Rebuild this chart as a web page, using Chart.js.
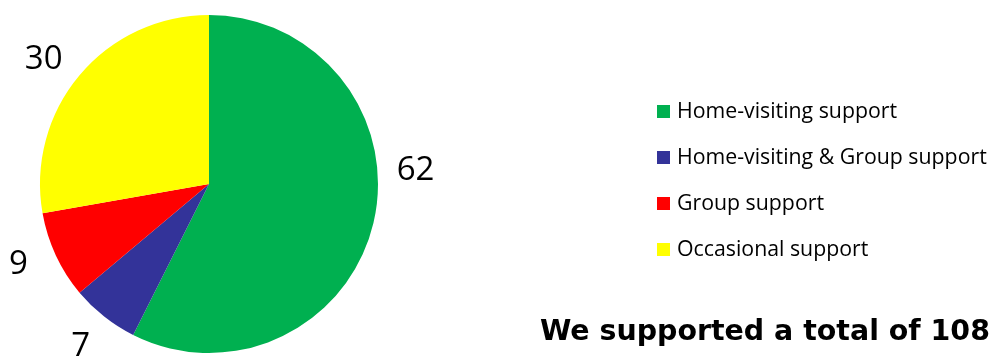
<!DOCTYPE html>
<html>
<head>
<meta charset="utf-8">
<script src="https://cdn.jsdelivr.net/npm/chart.js@4.4.1/dist/chart.umd.min.js"></script>
<style>
  html, body { margin: 0; padding: 0; background: #ffffff; }
  #wrap { position: relative; width: 991px; height: 358px; overflow: hidden; }
</style>
</head>
<body>
<div id="wrap"><canvas id="c" width="991" height="358"></canvas></div>
<script>
const categories = ["Home-visiting support", "Home-visiting & Group support", "Group support", "Occasional support"];
const values = [62, 7, 9, 30];
const colors = ["#00B050", "#333399", "#FF0000", "#FFFF00"];
const labelAngleAdjustDeg = [-17, 0, 2, -3];
const summaryLine1 = "We supported a total of 108";
const summaryLine2 = "parents of 216 children";

const labelFont = '33px "Open Sans", "DejaVu Sans", sans-serif';

function fitFont(ctx, text, weight, family, targetWidth, baseSize) {
  ctx.font = weight + ' ' + baseSize + 'px ' + family;
  const w = ctx.measureText(text).width;
  const size = baseSize * targetWidth / w;
  return weight + ' ' + size.toFixed(2) + 'px ' + family;
}

const decorPlugin = {
  id: 'decor',
  afterDraw(chart) {
    const ctx = chart.ctx;
    const meta = chart.getDatasetMeta(0);
    ctx.save();
    ctx.fillStyle = '#000000';
    ctx.font = labelFont;
    ctx.textAlign = 'center';
    ctx.textBaseline = 'middle';
    meta.data.forEach((arc, i) => {
      const p = arc.getProps(['x', 'y', 'startAngle', 'endAngle', 'outerRadius'], true);
      const mid = (p.startAngle + p.endAngle) / 2 + labelAngleAdjustDeg[i] * Math.PI / 180;
      const r = p.outerRadius + 38;
      ctx.fillText(String(values[i]), p.x + Math.cos(mid) * r, p.y + Math.sin(mid) * r);
    });
    const fam = '"Comic Sans MS", "Open Sans", sans-serif';
    const legFont = fitFont(ctx, categories[1], '', fam, 310, 18);
    ctx.textAlign = 'left';
    ctx.textBaseline = 'middle';
    categories.forEach((name, i) => {
      const cy = 111 + i * 46;
      ctx.fillStyle = colors[i];
      ctx.fillRect(657, cy - 6, 13, 13);
      ctx.fillStyle = '#000000';
      ctx.font = legFont;
      ctx.fillText(name, 677, cy + 1);
    });
    const bfam = '"Comic Sans MS", "DejaVu Sans", sans-serif';
    const bFont = fitFont(ctx, summaryLine1, 'bold', bfam, 450, 28);
    ctx.font = bFont;
    ctx.textBaseline = 'alphabetic';
    ctx.fillText(summaryLine1, 540, 340);
    const x2 = 700 - ctx.measureText("parents ").width;
    ctx.fillText(summaryLine2, x2, 380);
    ctx.restore();
  }
};

new Chart(document.getElementById('c'), {
  type: 'pie',
  data: {
    labels: categories,
    datasets: [{
      data: values,
      backgroundColor: colors,
      borderWidth: 0,
      hoverOffset: 0
    }]
  },
  options: {
    responsive: false,
    animation: false,
    events: [],
    layout: { padding: { left: 40, right: 613, top: 15, bottom: 5 } },
    plugins: {
      legend: { display: false },
      tooltip: { enabled: false },
      title: { display: false }
    }
  },
  plugins: [decorPlugin]
});
</script>
</body>
</html>
